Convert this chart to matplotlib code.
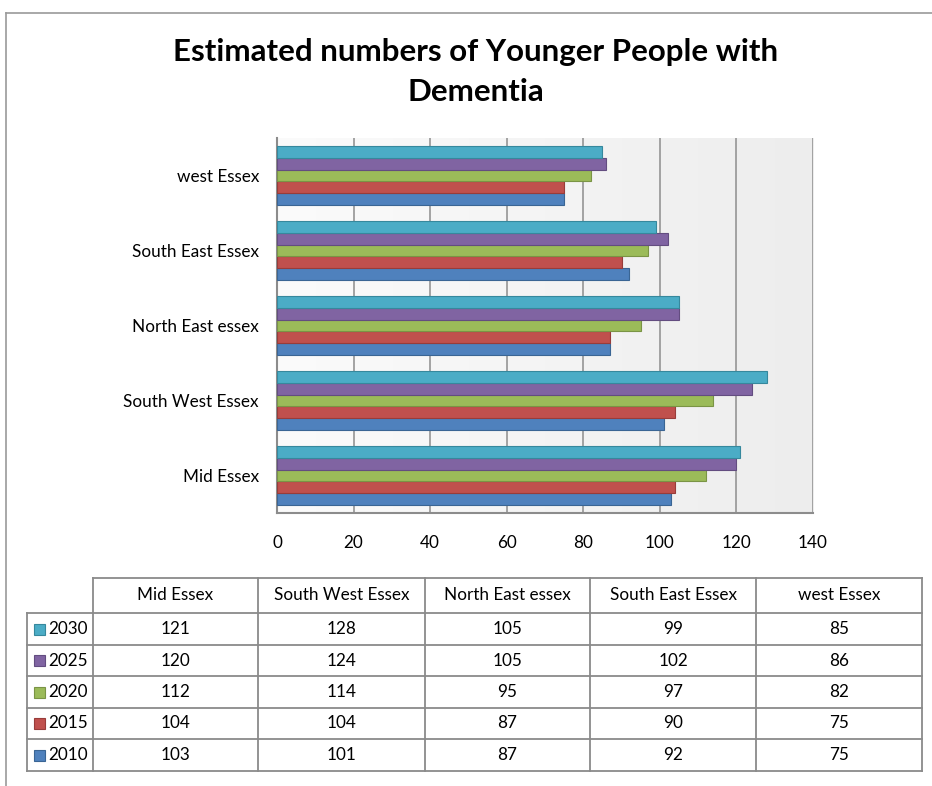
import matplotlib
matplotlib.use("Agg")
import matplotlib.pyplot as plt
import numpy as np
from matplotlib.patches import Rectangle
from matplotlib.lines import Line2D
from matplotlib.colors import LinearSegmentedColormap

plt.rcParams['font.family'] = ['Lato', 'DejaVu Sans']

title = "Estimated numbers of Younger People with\nDementia"
regions = ["Mid Essex", "South West Essex", "North East essex", "South East Essex", "west Essex"]
years = ["2010", "2015", "2020", "2025", "2030"]
values = {
    "2010": [103, 101, 87, 92, 75],
    "2015": [104, 104, 87, 90, 75],
    "2020": [112, 114, 95, 97, 82],
    "2025": [120, 124, 105, 102, 86],
    "2030": [121, 128, 105, 99, 85],
}
colors = {"2010": "#4F81BD", "2015": "#C0504D", "2020": "#9BBB59",
          "2025": "#8064A2", "2030": "#4BACC6"}
edges = {"2010": "#3A6594", "2015": "#983C3A", "2020": "#7A9445",
         "2025": "#634D80", "2030": "#36889D"}
xticks = [0, 20, 40, 60, 80, 100, 120, 140]

W, H = 932, 786
fig = plt.figure(figsize=(W / 100, H / 100), dpi=100)

def fx(px):
    return px / W

def fy(py):
    return 1 - py / H

# outer frame
fig.add_artist(Line2D([fx(6), fx(932)], [fy(13), fy(13)], color="#9a9a9a", lw=1.2))
fig.add_artist(Line2D([fx(6), fx(6)], [fy(13), fy(786)], color="#9a9a9a", lw=1.2))

fig.text(fx(476), fy(72), title, ha="center", va="center", fontsize=22.5,
         fontweight="bold", linespacing=1.5)

# plot area
L, R, T, B = 277, 813, 138, 513
ax = fig.add_axes([fx(L), fy(B), fx(R) - fx(L), fy(T) - fy(B)])
ax.set_xlim(0, 140)
ax.set_ylim(-0.5, len(regions) - 0.5)
grad = np.linspace(0, 1, 256).reshape(1, -1)
cmap = LinearSegmentedColormap.from_list("bg", ["#fbfbfb", "#ededed"])
ax.imshow(grad, extent=[0, 140, -0.5, len(regions) - 0.5], aspect="auto",
          cmap=cmap, zorder=0)
for t in xticks[1:]:
    ax.axvline(t, color="#959595", lw=1.2, zorder=1)

bh = 0.155
y = np.arange(len(regions))
for i, yr in enumerate(years):
    off = (i - 2) * bh
    ax.barh(y + off, values[yr], height=bh, color=colors[yr],
            edgecolor=edges[yr], linewidth=0.8, zorder=3)

for s in ["top", "right"]:
    ax.spines[s].set_visible(False)
ax.spines["left"].set_color("#8c8c8c")
ax.spines["left"].set_linewidth(1.5)
ax.spines["bottom"].set_color("#8c8c8c")
ax.spines["bottom"].set_linewidth(1.5)
ax.set_yticks(y)
ax.set_yticklabels(regions, fontsize=12.3)
ax.set_xticks(xticks)
ax.set_xticklabels([str(t) for t in xticks], fontsize=12.3)
ax.tick_params(axis="y", length=0, pad=13)
ax.tick_params(axis="x", length=0, pad=16)

# data table
tab = fig.add_axes([0, 0, 1, 1], facecolor="none")
tab.set_xlim(0, W)
tab.set_ylim(H, 0)
tab.axis("off")
col_x = [93, 258, 425, 590, 756, 922]
row_y = [578, 613, 645, 676, 708, 739, 771]
lab_x0 = 27
lc = "#8a8a8a"
lw = 1.3
tab.plot([col_x[0], col_x[-1]], [row_y[0], row_y[0]], color=lc, lw=lw)
for yy in row_y[1:]:
    tab.plot([lab_x0, col_x[-1]], [yy, yy], color=lc, lw=lw)
for xx in col_x:
    tab.plot([xx, xx], [row_y[0], row_y[-1]], color=lc, lw=lw)
tab.plot([lab_x0, lab_x0], [row_y[1], row_y[-1]], color=lc, lw=lw)

for j, reg in enumerate(regions):
    cx = (col_x[j] + col_x[j + 1]) / 2
    tab.text(cx, (row_y[0] + row_y[1]) / 2, reg, ha="center", va="center", fontsize=12.3)

for r, yr in enumerate(reversed(years)):
    cy = (row_y[r + 1] + row_y[r + 2]) / 2
    tab.add_patch(Rectangle((lab_x0 + 7, cy - 5.5), 11, 11, facecolor=colors[yr],
                            edgecolor=edges[yr], lw=0.8))
    tab.text(lab_x0 + 21, cy, yr, ha="left", va="center", fontsize=12.3)
    for j in range(len(regions)):
        cx = (col_x[j] + col_x[j + 1]) / 2
        tab.text(cx, cy, str(values[yr][j]), ha="center", va="center", fontsize=12.3)

fig.savefig("out.png", dpi=100)
